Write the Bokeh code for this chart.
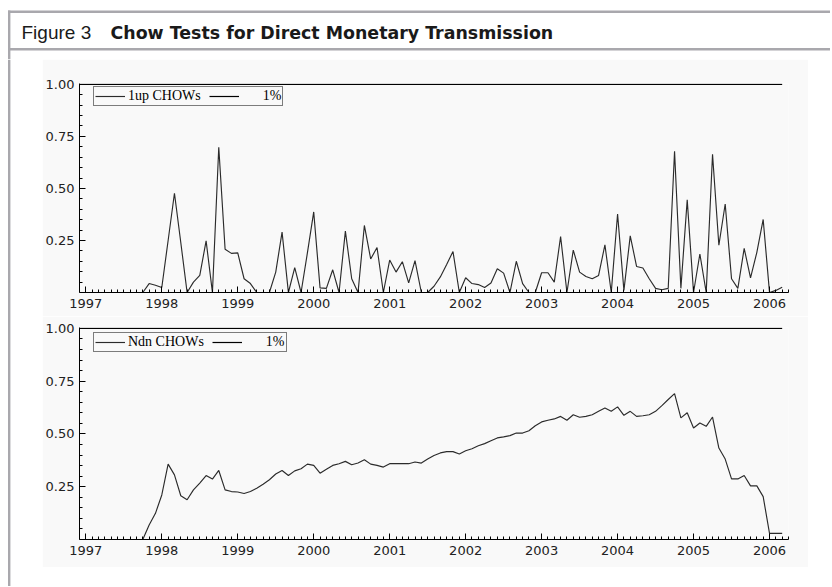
import pandas as pd
from bokeh.plotting import figure
from bokeh.models import Range1d, FixedTicker, Legend, LegendItem, ColumnDataSource, NumeralTickFormatter
from bokeh.layouts import column, row
from bokeh.embed import file_html
from bokeh.resources import INLINE
from bokeh.core.properties import value

# ---------------- data (monthly, Oct 1997 .. Mar 2006) ----------------
series_start = "1997-10"
crit_start = "1996-12"
series_end = "2006-03"

up_chows = [
    0.0, 0.043, 0.035,                                                       # 1997 Oct-Dec
    0.024, 0.25, 0.477, 0.24, 0.0, 0.05, 0.082, 0.248, 0.0, 0.698, 0.208, 0.188,   # 1998
    0.19, 0.066, 0.043, 0.0, 0.0, 0.0, 0.098, 0.29, 0.0, 0.12, 0.0, 0.19,          # 1999
    0.387, 0.022, 0.02, 0.109, 0.0, 0.295, 0.066, 0.0, 0.322, 0.161, 0.216, 0.0,   # 2000
    0.156, 0.098, 0.148, 0.046, 0.153, 0.0, 0.0, 0.03, 0.075, 0.135, 0.197, 0.0,   # 2001
    0.071, 0.043, 0.038, 0.024, 0.046, 0.114, 0.093, 0.0, 0.15, 0.043, 0.0, 0.0,   # 2002
    0.095, 0.095, 0.05, 0.269, 0.0, 0.204, 0.098, 0.077, 0.066, 0.082, 0.229, 0.0, # 2003
    0.377, 0.01, 0.272, 0.125, 0.118, 0.066, 0.02, 0.013, 0.02, 0.679, 0.02, 0.445,# 2004
    0.0, 0.185, 0.0, 0.664, 0.227, 0.425, 0.066, 0.02, 0.212, 0.07, 0.193, 0.351,  # 2005
    0.0, 0.01, 0.025,                                                        # 2006 Jan-Mar
]

ndn_chows = [
    0.0, 0.069, 0.124,
    0.211, 0.357, 0.306, 0.207, 0.188, 0.235, 0.267, 0.303, 0.286, 0.327, 0.235, 0.227,
    0.225, 0.218, 0.227, 0.243, 0.262, 0.283, 0.31, 0.327, 0.303, 0.325, 0.335, 0.357,
    0.351, 0.314, 0.333, 0.351, 0.359, 0.37, 0.354, 0.362, 0.378, 0.357, 0.351, 0.343,
    0.359, 0.359, 0.359, 0.359, 0.367, 0.362, 0.381, 0.398, 0.41, 0.416, 0.416, 0.405,
    0.42, 0.43, 0.444, 0.454, 0.468, 0.481, 0.486, 0.492, 0.504, 0.504, 0.515, 0.539,
    0.557, 0.565, 0.571, 0.583, 0.565, 0.591, 0.579, 0.583, 0.591, 0.607, 0.623, 0.607,
    0.628, 0.588, 0.607, 0.583, 0.586, 0.591, 0.607, 0.634, 0.663, 0.691, 0.576, 0.6,
    0.528, 0.552, 0.536, 0.58, 0.433, 0.381, 0.287, 0.287, 0.303, 0.254, 0.254, 0.203,
    0.029, 0.029, 0.029,
]

crit_1pct = 1.0
year_ticks = list(range(1997, 2007))
y_ticks = [0.25, 0.5, 0.75, 1.0]
title_prefix = "Figure 3"
title_main = "Chow Tests for Direct Monetary Transmission"
labels_up = ["1up CHOWs", "1%"]
labels_ndn = ["Ndn CHOWs", "1%"]


def dec_year(idx):
    return [d.year + (d.month - 1) / 12.0 for d in idx]


t_series = dec_year(pd.date_range(series_start, periods=len(up_chows), freq="MS"))
t_crit = dec_year(pd.date_range(crit_start, series_end, freq="MS"))
crit_vals = [crit_1pct for _ in t_crit]
month_ticks = dec_year(pd.date_range(crit_start, "2006-04", freq="MS"))

X0 = t_crit[0]
X1 = 2006.25
BG = "#f9f9f9"
GRAY = "#a9a8ad"


def make_chart(vals, labels, height, top_b, bottom_b, leg_loc):
    p = figure(width=766, height=height, output_backend="svg", toolbar_location=None,
               x_range=Range1d(X0, X1), y_range=Range1d(0, 1.004),
               min_border_left=37, min_border_right=20,
               min_border_top=top_b, min_border_bottom=bottom_b,
               background_fill_color=BG, border_fill_color=BG, outline_line_color=None)
    p.grid.visible = False
    src = ColumnDataSource(dict(t=t_series, v=vals))
    csrc = ColumnDataSource(dict(t=t_crit, v=crit_vals))
    r_c = p.line("t", "v", source=csrc, line_color="black", line_width=1.2)
    r_s = p.line("t", "v", source=src, line_color="#2b2b2b", line_width=1.15)

    for ax in (p.xaxis[0], p.yaxis[0]):
        ax.axis_line_color = "black"
        ax.major_tick_in = 6
        ax.major_tick_out = 0
        ax.minor_tick_in = 3
        ax.minor_tick_out = 0
        ax.major_tick_line_color = "black"
        ax.minor_tick_line_color = "black"
        ax.major_label_text_font = "DejaVu Sans"
        ax.major_label_text_font_size = "13px"
        ax.major_label_text_color = "#222222"
    p.xaxis.ticker = FixedTicker(ticks=year_ticks, minor_ticks=month_ticks)
    p.xaxis.major_label_standoff = 6
    p.yaxis.ticker = FixedTicker(ticks=y_ticks,
                                 minor_ticks=[round(0.05 * k, 2) for k in range(1, 21)])
    p.yaxis.formatter = NumeralTickFormatter(format="0.00")
    p.yaxis.major_label_standoff = 5

    legend = Legend(items=[LegendItem(label=labels[0], renderers=[r_s]),
                           LegendItem(label="\u2002\u2002\u2002" + labels[1], renderers=[r_c])],
                    orientation="horizontal", location=leg_loc, margin=0,
                    padding=1, spacing=8, glyph_width=30, glyph_height=12,
                    label_height=12, label_standoff=3,
                    label_text_font="Liberation Serif", label_text_font_size="14px",
                    label_text_color="black",
                    border_line_color="black", border_line_width=1,
                    background_fill_color=BG, background_fill_alpha=1.0)
    p.add_layout(legend, "center")
    return p


top = make_chart(up_chows, labels_up, 257, 24, 24, (14, 186))
bot = make_chart(ndn_chows, labels_ndn, 251, 11, 28, (14, 187))

# ---------------- header with frame lines ----------------
HW, HH = 830, 59
hdr = figure(width=HW, height=HH, output_backend="svg", toolbar_location=None,
             x_range=Range1d(0, HW), y_range=Range1d(0, HH), min_border=0,
             outline_line_color=None, background_fill_color="white", border_fill_color="white")
hdr.axis.visible = False
hdr.grid.visible = False
hdr.line([7.5, HW], [47.8, 47.8], line_color=GRAY, line_width=2.6)
hdr.line([7.5, HW], [10.3, 10.3], line_color=GRAY, line_width=2.6)
hdr.line([8.7, 8.7], [0, 49], line_color=GRAY, line_width=2.4)
hdr.text(x=[21], y=[27], text=[title_prefix], text_font=value("Liberation Sans"),
         text_font_size="19px", text_baseline="alphabetic", text_color="#1a1a1a")
hdr.text(x=[110], y=[27], text=[title_main], text_font=value("DejaVu Sans"),
         text_font_size="17.4px", text_font_style="bold", text_baseline="alphabetic",
         text_color="#1a1a1a")

strip = figure(width=42, height=527, output_backend="svg", toolbar_location=None,
               x_range=Range1d(0, 42), y_range=Range1d(0, 527), min_border=0,
               outline_line_color=None, background_fill_color="white", border_fill_color="white")
strip.axis.visible = False
strip.grid.visible = False
strip.line([8.7, 8.7], [0, 527], line_color=GRAY, line_width=2.4)

layout = column(hdr, row(strip, column(top, bot, spacing=0), spacing=0), spacing=0)

open("out.html", "w").write(file_html(layout, INLINE))
